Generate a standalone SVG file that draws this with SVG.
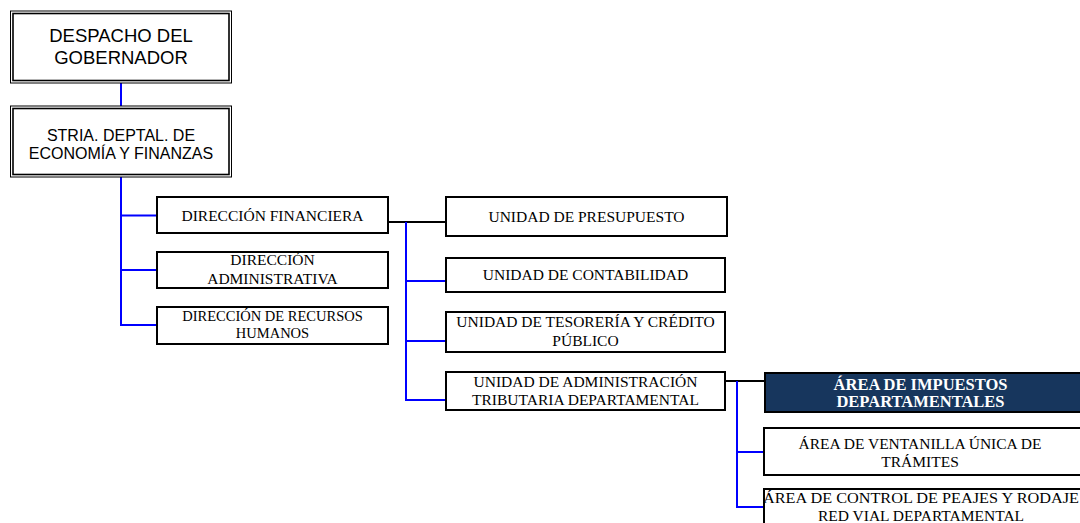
<svg xmlns="http://www.w3.org/2000/svg" width="1080" height="523" viewBox="0 0 1080 523">
<style>
.bg{fill:#ffffff}
.box{fill:#ffffff;stroke:#000000;stroke-width:2}
.dark{fill:#17365D;stroke:#000000;stroke-width:2}
.outer{fill:#ffffff;stroke:#000000;stroke-width:1}
.inner{fill:none;stroke:#000000;stroke-width:1.6}
.sans{font-family:"Liberation Sans",Arial,sans-serif;font-size:16px;fill:#000000;text-anchor:middle}
.big{font-size:18.5px}
.serif{font-family:"Liberation Serif","Times New Roman",serif;font-size:15.5px;fill:#000000;text-anchor:middle}
.small{font-size:14.5px}
.bold{font-weight:bold;fill:#ffffff;font-size:16.5px}
.blue{fill:none;stroke:#0000FF;stroke-width:2}
.black{fill:none;stroke:#000000;stroke-width:2}
</style>
<rect class="bg" x="0" y="0" width="1080" height="523"/>
<g id="connectors">
<line class="blue" x1="121" y1="83" x2="121" y2="106"/>
<polyline class="blue" points="121,177 121,325 157,325"/>
<line class="blue" x1="121" y1="215.5" x2="157" y2="215.5"/>
<line class="blue" x1="121" y1="270" x2="157" y2="270"/>
<line class="black" x1="388" y1="222" x2="446" y2="222"/>
<polyline class="blue" points="406,222 406,400 446,400"/>
<line class="blue" x1="406" y1="281" x2="446" y2="281"/>
<line class="blue" x1="406" y1="341" x2="446" y2="341"/>
<line class="black" x1="726" y1="381" x2="765" y2="381"/>
<polyline class="blue" points="737,381 737,507 764,507"/>
<line class="blue" x1="737" y1="452" x2="764" y2="452"/>
</g>
<g id="despacho">
<rect class="outer" x="10.5" y="11" width="221" height="72"/>
<rect class="inner" x="13" y="13.5" width="216" height="67"/>
<text class="sans big" x="121" y="42">DESPACHO DEL</text>
<text class="sans big" x="121" y="64">GOBERNADOR</text>
</g>
<g id="secretaria">
<rect class="outer" x="10.5" y="106" width="221" height="71"/>
<rect class="inner" x="13" y="108.5" width="216" height="66"/>
<text class="sans" x="121" y="141">STRIA. DEPTAL. DE</text>
<text class="sans" x="121" y="159">ECONOMÍA Y FINANZAS</text>
</g>
<g id="dir-financiera">
<rect class="box" x="157" y="197" width="231" height="36"/>
<text class="serif" x="272.5" y="221">DIRECCIÓN FINANCIERA</text>
</g>
<g id="dir-administrativa">
<rect class="box" x="157" y="252" width="231" height="36"/>
<text class="serif" x="272.5" y="265">DIRECCIÓN</text>
<text class="serif" x="272.5" y="284">ADMINISTRATIVA</text>
</g>
<g id="dir-rrhh">
<rect class="box" x="157" y="307" width="231" height="37"/>
<text class="serif small" x="272.5" y="321">DIRECCIÓN DE RECURSOS</text>
<text class="serif small" x="272.5" y="338">HUMANOS</text>
</g>
<g id="u-presupuesto">
<rect class="box" x="446" y="197" width="281" height="39"/>
<text class="serif" x="586.5" y="222">UNIDAD DE PRESUPUESTO</text>
</g>
<g id="u-contabilidad">
<rect class="box" x="446" y="258" width="279" height="34"/>
<text class="serif" x="585.5" y="280">UNIDAD DE CONTABILIDAD</text>
</g>
<g id="u-tesoreria">
<rect class="box" x="446" y="312" width="279" height="40"/>
<text class="serif" x="585.5" y="327">UNIDAD DE TESORERÍA Y CRÉDITO</text>
<text class="serif" x="585.5" y="346">PÚBLICO</text>
</g>
<g id="u-tributaria">
<rect class="box" x="446" y="372" width="279" height="38"/>
<text class="serif" x="585.5" y="387">UNIDAD DE ADMINISTRACIÓN</text>
<text class="serif" x="585.5" y="405">TRIBUTARIA DEPARTAMENTAL</text>
</g>
<g id="a-impuestos">
<rect class="dark" x="765" y="373" width="320" height="39"/>
<text class="serif bold" x="920.5" y="390">ÁREA DE IMPUESTOS</text>
<text class="serif bold" x="920.5" y="407">DEPARTAMENTALES</text>
</g>
<g id="a-ventanilla">
<rect class="box" x="764" y="428" width="320" height="47"/>
<text class="serif" x="920" y="449">ÁREA DE VENTANILLA ÚNICA DE</text>
<text class="serif" x="920" y="467">TRÁMITES</text>
</g>
<g id="a-peajes">
<rect class="box" x="764" y="489" width="320" height="40"/>
<text class="serif" x="921" y="503" font-size="16" textLength="316" lengthAdjust="spacingAndGlyphs">ÁREA DE CONTROL DE PEAJES Y RODAJE</text>
<text class="serif" x="921" y="521">RED VIAL DEPARTAMENTAL</text>
</g>
</svg>
